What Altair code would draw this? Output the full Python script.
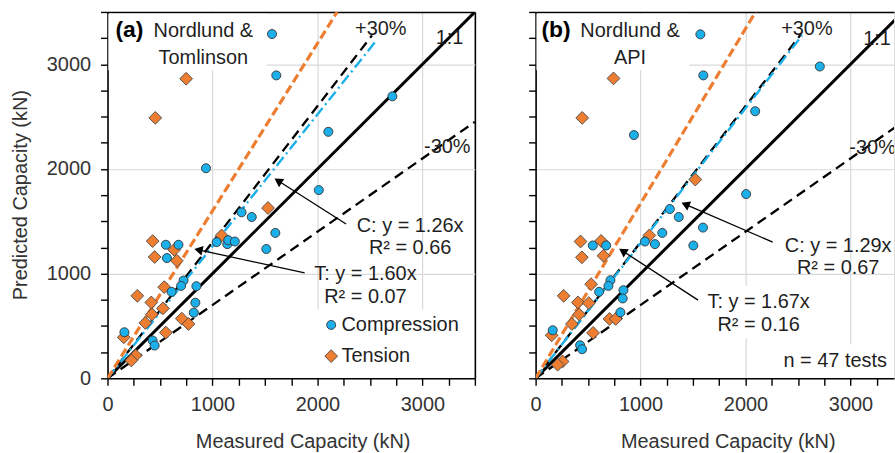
import math
import altair as alt
import pandas as pd

FONT = "Liberation Sans"
INK = "#1f1f1f"
AXIS_INK = "#333333"
BLUE = "#1cb0ea"
ORANGE = "#ed7d31"
GRID = "#d9d9d9"

# ---------------- data ----------------
series_names = ["Compression", "Tension"]

# panel (a): Nordlund & Tomlinson
comp_a_x = [1567, 1608, 938, 2714, 2104, 2013, 1277, 1374, 1599, 1513, 1040, 1141, 1150, 1213,
            556, 676, 566, 724, 701, 610, 847, 837, 822, 161, 430, 449]
comp_a_y = [3289, 2894, 2007, 2694, 2355, 1798, 1586, 1541, 1389, 1235, 1301, 1282, 1320, 1307,
            1276, 1276, 1149, 934, 883, 826, 880, 722, 627, 440, 361, 313]
ten_a_x = [749, 455, 1529, 1087, 430, 635, 449, 660, 540, 284, 417, 528, 423, 360, 708, 771,
           556, 155, 268, 227]
ten_a_y = [2862, 2488, 1627, 1365, 1311, 1228, 1159, 1124, 871, 788, 725, 668, 611, 529, 570, 519,
           437, 392, 218, 171]

# panel (b): Nordlund & API
comp_b_x = [1570, 1598, 937, 2708, 2092, 2006, 1279, 1364, 1595, 1503, 1042, 1137, 1207, 545,
            672, 713, 605, 694, 837, 830, 808, 163, 424, 443]
comp_b_y = [3286, 2894, 2324, 2979, 2552, 1760, 1617, 1541, 1440, 1269, 1307, 1282, 1389, 1269,
            1269, 937, 826, 883, 842, 763, 630, 459, 316, 278]
ten_b_x = [742, 444, 1522, 1084, 428, 624, 441, 647, 529, 267, 403, 507, 415, 346, 704, 764,
           548, 153, 257, 210]
ten_b_y = [2865, 2488, 1899, 1365, 1307, 1313, 1156, 1171, 899, 788, 725, 719, 611, 519, 567, 567,
           434, 411, 161, 130]

# reference / trend lines: each from (0, 0) to (x1, y1)
line_names = ["1:1", "+30%", "-30%", "C fit", "T fit"]
lines_a_x1 = [3500, 2520, 3500, 2560, 2188]
lines_a_y1 = [3500, 3276, 2450, 3226, 3500]
lines_b_x1 = [3500, 2530, 3500, 2540, 2096]
lines_b_y1 = [3500, 3289, 2450, 3277, 3500]

# annotations
ann_a_text = ["+30%", "1:1", "-30%", "C: y = 1.26x", "R² = 0.66", "T: y = 1.60x", "R² = 0.07"]
ann_a_x = [2604, 3258, 3237, 2883, 2883, 2457, 2457]
ann_a_y = [3333, 3253, 2208, 1453, 1244, 997, 779]
ann_b_text = ["+30%", "1:1", "-30%", "C: y = 1.29x", "R² = 0.67", "T: y = 1.67x", "R² = 0.16",
              "n = 47 tests"]
ann_b_x = [2585, 3253, 3211, 2883, 2883, 2125, 2125, 2855]
ann_b_y = [3333, 3243, 2198, 1268, 1049, 731, 508, 166]

title_a_lines = ["Nordlund &", "Tomlinson"]
title_a_x = [913, 913]
title_a_y = [3319, 3058]
title_b_lines = ["Nordlund &", "API"]
title_b_x = [900, 900]
title_b_y = [3319, 3058]
tags = ["(a)", "(b)"]
tag_x = [209, 195]
tag_y = [3324, 3324]

legend_x_sym = [2131, 2131]
legend_x_lab = [2229, 2229]
legend_y = [510, 212]

# arrows: tail -> head
arrow_a_tx = [2273, 1878]
arrow_a_ty = [1475, 1007]
arrow_a_hx = [1625, 866]
arrow_a_hy = [1887, 1228]
arrow_b_tx = [2259, 1548]
arrow_b_ty = [1301, 747]
arrow_b_hx = [1427, 830]
arrow_b_hy = [1662, 1216]

# white label backgrounds
box_a = dict(x=[8, 1950], x2=[1518, 3490], y=[2944, 8], y2=[3482, 660])
box_b = dict(x=[8, 2330, 1600], x2=[1465, 3440, 2650], y=[2944, 8, 380], y2=[3482, 323, 883])

tick_vals = list(range(0, 3501, 250))

# ---------------- styles ----------------
line_styles = {
    "1:1": dict(color="black", strokeWidth=3),
    "+30%": dict(color="black", strokeWidth=2.3, strokeDash=[10, 6]),
    "-30%": dict(color="black", strokeWidth=2.3, strokeDash=[10, 6]),
    "C fit": dict(color=BLUE, strokeWidth=2.4, strokeDash=[11, 4, 2, 4]),
    "T fit": dict(color=ORANGE, strokeWidth=3.2, strokeDash=[9, 4]),
}

major = "datum.value > 0 && (datum.value % 1000 === 0 || datum.value === 3500)"
grid_opacity = {"condition": {"test": major, "value": 1}, "value": 0}
grid_color = {"condition": {"test": "datum.value === 3500", "value": "black"}, "value": GRID}
grid_width = {"condition": {"test": "datum.value === 3500", "value": 1.6}, "value": 1.2}
label_expr = "datum.value % 1000 === 0 ? datum.label : ''"
label_size = {"condition": {"test": "datum.value % 1000 === 0", "value": 20}, "value": 0}


def x_axis(title_x):
    return alt.Axis(values=tick_vals, format="d", labelExpr=label_expr, labelFlush=False,
                    labelOverlap=False, tickSize=7, tickWidth=1.4, tickColor="black",
                    domainColor="black", domainWidth=1.6, labelFontSize=label_size,
                    labelFont=FONT, labelColor=AXIS_INK, labelPadding=9, grid=True,
                    gridColor=grid_color, gridOpacity=grid_opacity, gridWidth=grid_width,
                    titleX=title_x, titleY=69, titleAlign="center", titleBaseline="alphabetic",
                    titleFontSize=20, titleFont=FONT, titleFontWeight="normal",
                    titleColor=AXIS_INK)


def y_axis(show):
    kw = dict(values=tick_vals, format="d", labelExpr=label_expr, labelOverlap=False,
              tickSize=7, tickWidth=1.4, tickColor="black", domainColor="black",
              domainWidth=1.6, labelFontSize=label_size, labelFont=FONT, labelColor=AXIS_INK,
              labelPadding=10, grid=True, gridColor=grid_color, gridOpacity=grid_opacity,
              gridWidth=grid_width)
    if show:
        kw.update(titleX=-87, titleY=183.5, titleAngle=270, titleAlign="center",
                  titleBaseline="middle", titleFontSize=20, titleFont=FONT,
                  titleFontWeight="normal", titleColor=AXIS_INK)
    else:
        kw.update(labels=False)
    return alt.Axis(**kw)


def panel(comp_x, comp_y, ten_x, ten_y, lx1, ly1, ann_t, ann_x, ann_y, t_lines, t_x, t_y,
          tag, tx, ty, arrows, box, xmax, width, show_y, xtitle_x, legend):
    xs = alt.Scale(domain=[0, xmax], nice=False, zero=True)
    ys = alt.Scale(domain=[0, 3500], nice=False, zero=True)
    xax = x_axis(xtitle_x)
    yax = y_axis(show_y)
    ytitle = "Predicted Capacity (kN)" if show_y else None

    def X(f):
        return alt.X(f, type="quantitative", scale=xs, axis=xax, title="Measured Capacity (kN)")

    def Y(f):
        return alt.Y(f, type="quantitative", scale=ys, axis=yax, title=ytitle)

    clip = True
    layers = []
    bdf = pd.DataFrame(box)
    layers.append(alt.Chart(bdf).mark_rect(color="white", clip=clip).encode(
        x=X("x"), x2="x2", y=Y("y"), y2="y2"))
    for name, x1, y1 in zip(line_names, lx1, ly1):
        ldf = pd.DataFrame({"x": [0, x1], "y": [0, y1]})
        layers.append(alt.Chart(ldf).mark_line(clip=clip, **line_styles[name]).encode(
            x=X("x"), y=Y("y")))
    cdf = pd.DataFrame({"x": comp_x, "y": comp_y, "s": series_names[0]})
    tdf = pd.DataFrame({"x": ten_x, "y": ten_y, "s": series_names[1]})
    layers.append(alt.Chart(tdf).mark_point(shape="diamond", filled=True, fill=ORANGE,
                                            stroke="#4a4a4a", strokeWidth=0.9, size=165,
                                            opacity=1).encode(x=X("x"), y=Y("y")))
    layers.append(alt.Chart(cdf).mark_point(shape="circle", filled=True, fill=BLUE,
                                            stroke="#333333", strokeWidth=0.9, size=82,
                                            opacity=1).encode(x=X("x"), y=Y("y")))
    atx, aty, ahx, ahy = arrows
    adf = pd.DataFrame({"tx": atx, "ty": aty, "hx": ahx, "hy": ahy})
    adf["ang"] = [math.degrees(math.atan2(hx - tx_, hy - ty_)) % 360
                  for tx_, ty_, hx, hy in zip(atx, aty, ahx, ahy)]
    layers.append(alt.Chart(adf).mark_rule(color="black", strokeWidth=1.3).encode(
        x=X("tx"), y=Y("ty"), x2="hx", y2="hy"))
    layers.append(alt.Chart(adf).mark_point(shape="triangle-up", filled=True, color="black",
                                            size=95, opacity=1).encode(
        x=X("hx"), y=Y("hy"), angle=alt.Angle("ang:Q", scale=None)))
    txt = pd.DataFrame({"t": ann_t + t_lines, "x": ann_x + t_x, "y": ann_y + t_y})
    layers.append(alt.Chart(txt).mark_text(font=FONT, fontSize=20, color=INK, align="center",
                                           baseline="middle", clip=clip).encode(
        x=X("x"), y=Y("y"), text="t:N"))
    tg = pd.DataFrame({"t": [tag], "x": [tx], "y": [ty]})
    layers.append(alt.Chart(tg).mark_text(font=FONT, fontSize=23, fontWeight="bold", color="black",
                                          align="center", baseline="middle").encode(
        x=X("x"), y=Y("y"), text="t:N"))
    if legend:
        lc = pd.DataFrame({"x": [legend_x_sym[0]], "y": [legend_y[0]]})
        ld = pd.DataFrame({"x": [legend_x_sym[1]], "y": [legend_y[1]]})
        ll = pd.DataFrame({"t": series_names, "x": legend_x_lab, "y": legend_y})
        layers.append(alt.Chart(lc).mark_point(shape="circle", filled=True, fill=BLUE,
                                               stroke="#333333", strokeWidth=0.9, size=82,
                                               opacity=1).encode(x=X("x"), y=Y("y")))
        layers.append(alt.Chart(ld).mark_point(shape="diamond", filled=True, fill=ORANGE,
                                               stroke="#4a4a4a", strokeWidth=0.9, size=165,
                                               opacity=1).encode(x=X("x"), y=Y("y")))
        layers.append(alt.Chart(ll).mark_text(font=FONT, fontSize=20, color=INK, align="left",
                                              baseline="middle").encode(
            x=X("x"), y=Y("y"), text="t:N"))
    return alt.layer(*layers).properties(width=width, height=368)


pa = panel(comp_a_x, comp_a_y, ten_a_x, ten_a_y, lines_a_x1, lines_a_y1, ann_a_text, ann_a_x,
           ann_a_y, title_a_lines, title_a_x, title_a_y, tags[0], tag_x[0], tag_y[0],
           (arrow_a_tx, arrow_a_ty, arrow_a_hx, arrow_a_hy), box_a, 3500, 369, True, 196, True)
pb = panel(comp_b_x, comp_b_y, ten_b_x, ten_b_y, lines_b_x1, lines_b_y1, ann_b_text, ann_b_x,
           ann_b_y, title_b_lines, title_b_x, title_b_y, tags[1], tag_x[1], tag_y[1],
           (arrow_b_tx, arrow_b_ty, arrow_b_hx, arrow_b_hy), box_b, 3415, 360, False, 193, False)

chart = alt.hconcat(pa, pb, spacing=50).properties(
    padding={"left": 10, "top": 9, "right": 0, "bottom": 0},
    background="white",
).configure_view(stroke=None).configure(font=FONT)

chart.save("out.html", embed_options={"renderer": "svg", "actions": False})
